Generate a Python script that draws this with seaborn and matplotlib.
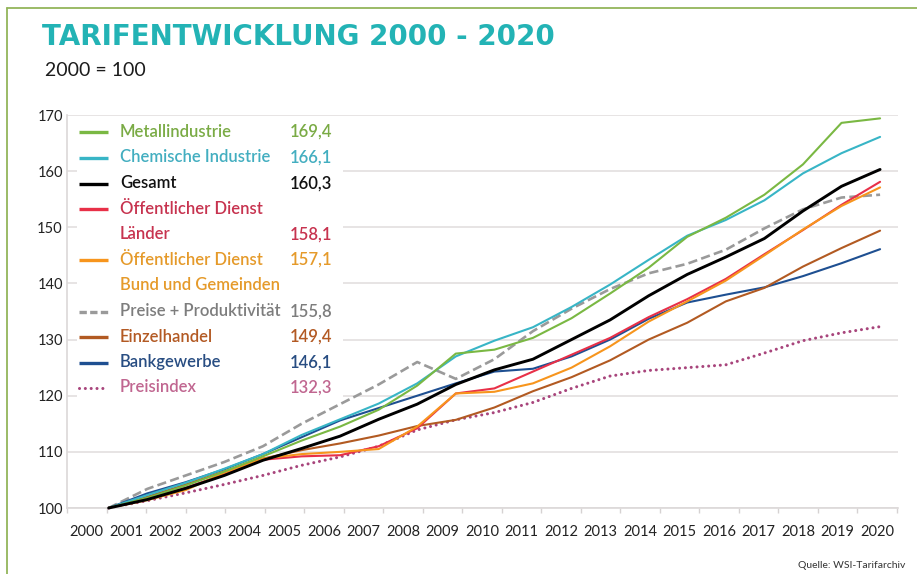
import matplotlib

matplotlib.use("Agg")
import matplotlib.pyplot as plt
import numpy as np
import pandas as pd
import seaborn as sns
from matplotlib.lines import Line2D
from matplotlib.patches import Rectangle

# ── Data (index, 2000 = 100) ────────────────────────────────────────────────
years = list(range(2000, 2021))

metall = [100, 101.8, 104.0, 106.5, 109.2, 112.0, 114.5, 117.5, 121.8, 127.5, 128.2,
          130.3, 133.8, 138.2, 142.8, 148.3, 151.7, 155.8, 161.2, 168.6, 169.4]
chemie = [100, 102.3, 104.5, 107.0, 109.6, 113.0, 115.8, 118.6, 122.2, 127.0, 129.8,
          132.2, 135.8, 139.8, 144.2, 148.5, 151.3, 154.8, 159.6, 163.2, 166.1]
gesamt = [100, 101.5, 103.5, 105.8, 108.5, 110.6, 112.8, 115.8, 118.5, 122.0, 124.6,
          126.5, 130.0, 133.5, 137.8, 141.6, 144.7, 148.0, 152.9, 157.3, 160.3]
od_laender = [100, 101.6, 103.6, 106.0, 108.6, 109.2, 109.4, 111.0, 114.2, 120.4, 121.3,
              124.3, 127.3, 130.3, 134.0, 137.2, 140.8, 145.2, 149.5, 154.0, 158.1]
od_bund = [100, 101.4, 103.2, 106.3, 108.8, 109.6, 110.0, 110.5, 114.5, 120.4, 120.7,
           122.2, 125.0, 128.8, 133.2, 136.8, 140.5, 145.0, 149.6, 153.8, 157.1]
preise_prod = [100, 103.4, 105.8, 108.2, 111.0, 115.0, 118.5, 122.0, 126.0, 123.0, 126.5,
               131.5, 135.5, 139.0, 141.8, 143.5, 146.0, 149.8, 153.2, 155.3, 155.8]
einzelhandel = [100, 102.0, 104.2, 106.5, 108.8, 110.3, 111.5, 112.9, 114.6, 115.7, 117.9,
                120.8, 123.3, 126.3, 130.0, 133.0, 136.8, 139.2, 143.0, 146.3, 149.4]
bank = [100, 102.6, 104.6, 106.9, 109.6, 112.6, 115.6, 117.8, 120.0, 122.2, 124.3,
        124.8, 127.0, 130.0, 133.7, 136.6, 138.0, 139.3, 141.3, 143.6, 146.1]
preisindex = [100, 101.3, 102.7, 104.2, 105.8, 107.6, 109.1, 111.0, 113.9, 115.7, 117.0,
              118.8, 121.3, 123.5, 124.5, 125.0, 125.5, 127.6, 129.8, 131.2, 132.3]

y_ticks = [100, 110, 120, 130, 140, 150, 160, 170]
x_labels = [str(y) for y in years]

# legend rows: (series key or None, label, value text)
legend_rows = [
    ("metall", "Metallindustrie", "169,4"),
    ("chemie", "Chemische Industrie", "166,1"),
    ("gesamt", "Gesamt", "160,3"),
    ("od_laender", "Öffentlicher Dienst", ""),
    (None, "Länder", "158,1"),
    ("od_bund", "Öffentlicher Dienst", "157,1"),
    (None, "Bund und Gemeinden", ""),
    ("preise_prod", "Preise + Produktivität", "155,8"),
    ("einzelhandel", "Einzelhandel", "149,4"),
    ("bank", "Bankgewerbe", "146,1"),
    ("preisindex", "Preisindex", "132,3"),
]

series = {
    "preisindex": preisindex,
    "preise_prod": preise_prod,
    "bank": bank,
    "einzelhandel": einzelhandel,
    "od_laender": od_laender,
    "od_bund": od_bund,
    "chemie": chemie,
    "metall": metall,
    "gesamt": gesamt,
}

# ── Styles ──────────────────────────────────────────────────────────────────
line_color = {
    "metall": "#7ab843", "chemie": "#38b5c6", "gesamt": "#000000",
    "od_laender": "#e83048", "od_bund": "#f7951d", "preise_prod": "#9a9a9a",
    "einzelhandel": "#b25a22", "bank": "#1e4f91", "preisindex": "#a8457c",
}
text_color = {
    "metall": "#7aab45", "chemie": "#43aec0", "gesamt": "#111111",
    "od_laender": "#c7334f", "od_bund": "#e59a2a", "preise_prod": "#7d7d7d",
    "einzelhandel": "#b35a24", "bank": "#284d82", "preisindex": "#c06690",
}
line_width = {k: 1.5 for k in line_color}
line_width["gesamt"] = 2.1
line_width["preise_prod"] = 1.9
line_width["preisindex"] = 2.2
dash_pattern = {"preise_prod": (3.5, 1.6), "preisindex": (0.01, 1.9)}

W, H = 917, 574


def fx(px):
    return px / W


def fy(py):
    return 1 - py / H


sns.set_theme(style="white")
plt.rcParams["font.family"] = ["Lato", "DejaVu Sans"]

fig = plt.figure(figsize=(W / 100, H / 100), dpi=100)
fig.patch.set_facecolor("white")

ax_left, ax_right, ax_top, ax_bottom = 67, 898, 115, 508
ax = fig.add_axes([fx(ax_left), fy(ax_bottom), (ax_right - ax_left) / W,
                   (ax_bottom - ax_top) / H])

# ── Lines ───────────────────────────────────────────────────────────────────
for key, vals in series.items():
    df = pd.DataFrame({"Jahr": years, "Index": vals})
    sns.lineplot(data=df, x="Jahr", y="Index", ax=ax, color=line_color[key],
                 linewidth=line_width[key], clip_on=False,
                 zorder=3 if key == "gesamt" else 2)
    ln = ax.lines[-1]
    ln.set_solid_capstyle("round")
    ln.set_solid_joinstyle("round")
    if key in dash_pattern:
        ln.set_dashes(dash_pattern[key])
        ln.set_dash_capstyle("round" if key == "preisindex" else "butt")

# x scale: 2000 at px 105, 2020 at px 880
px_per_year = (880 - 105) / 20
ax.set_xlim(2000 - (105 - ax_left) / px_per_year, 2020 + (ax_right - 880) / px_per_year)
ax.set_ylim(100, 170)

label_pos = 2000 + (np.linspace(83, 877, 21) - 105) / px_per_year
step = label_pos[1] - label_pos[0]
ax.set_xticks(label_pos)
ax.set_xticklabels(x_labels)
ax.set_xticks(np.append(label_pos - step / 2, label_pos[-1] + step / 2), minor=True)
ax.tick_params(axis="x", which="major", length=0, pad=12, labelsize=10.5,
               labelcolor="#222222")
ax.tick_params(axis="x", which="minor", length=3.5, width=1, color="#d6d2d2",
               direction="out", bottom=True)
ax.set_yticks(y_ticks)
ax.tick_params(axis="y", length=0, pad=3, labelsize=10.5, labelcolor="#222222")
ax.set_xlabel("")
ax.set_ylabel("")

ax.set_axisbelow(True)
ax.grid(axis="y", color="#e3dfdf", linewidth=1.2)
ax.grid(axis="x", visible=False)
for side in ["top", "right"]:
    ax.spines[side].set_visible(False)
for side in ["left", "bottom"]:
    ax.spines[side].set_color("#dcd8d8")
    ax.spines[side].set_linewidth(1.2)

# white box behind the legend text
ax.add_patch(Rectangle((fx(77), fy(400)), fx(343) - fx(77), fy(118) - fy(400),
                       transform=fig.transFigure, facecolor="white",
                       edgecolor="none", zorder=1.5))

# ── Legend ──────────────────────────────────────────────────────────────────
row_y = [132, 157.5, 183.5, 208.5, 234.5, 260, 285.5, 311.5, 337, 362.5, 387.5]
current = None
for (key, label, value), py in zip(legend_rows, row_y):
    if key is not None:
        current = key
        sample = Line2D([fx(79), fx(108)], [fy(py), fy(py)], transform=fig.transFigure,
                        color=line_color[key], linewidth=2.4 if key != "preisindex" else 2.2,
                        solid_capstyle="butt")
        if key in dash_pattern:
            sample.set_dashes((2.2, 1.0) if key == "preise_prod" else (0.01, 1.9))
            sample.set_dash_capstyle("round" if key == "preisindex" else "butt")
        fig.add_artist(sample)
    col = text_color[current]
    fig.text(fx(120), fy(py), label, color=col, fontsize=12, fontweight="semibold",
             va="center", ha="left")
    if value:
        fig.text(fx(332), fy(py), value, color=col, fontsize=12, fontweight="semibold",
                 va="center", ha="right")

# ── Titles, source, frame ───────────────────────────────────────────────────
fig.text(fx(42), fy(37), "TARIFENTWICKLUNG 2000 - 2020", color="#23b3b5",
         fontsize=20, fontweight="bold", family=["DejaVu Sans"], va="center", ha="left")
fig.text(fx(45), fy(70), "2000 = 100", color="#1c1c1c", fontsize=14,
         va="center", ha="left")
fig.text(fx(905), fy(565), "Quelle: WSI-Tarifarchiv", color="#333333", fontsize=7.5,
         va="center", ha="right")

frame_kw = dict(transform=fig.transFigure, color="#93b55a", linewidth=1.3)
fig.add_artist(Line2D([fx(7), 1], [fy(8), fy(8)], **frame_kw))
fig.add_artist(Line2D([fx(7), fx(7)], [0, fy(8)], **frame_kw))

fig.savefig("out.png", dpi=100, facecolor="white")
plt.close(fig)
